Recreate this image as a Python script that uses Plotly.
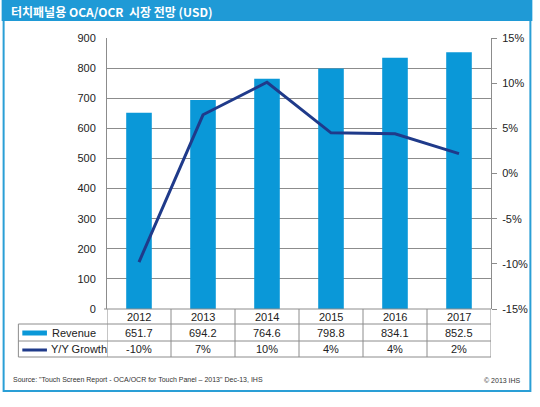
import plotly.graph_objects as go

years = ['2012', '2013', '2014', '2015', '2016', '2017']
revenue = [651.7, 694.2, 764.6, 798.8, 834.1, 852.5]
growth = [-9.8, 6.5, 10.1, 4.5, 4.4, 2.2]
growth_labels = ['-10%', '7%', '10%', '4%', '4%', '2%']
pct_ticks = [-15, -10, -5, 0, 5, 10, 15]
pct_tick_labels = ['-15%', '-10%', '-5%', '0%', '5%', '10%', '15%']

BAR_BLUE = '#0a98d8'
LINE_BLUE = '#1f3a8a'
FRAME_BLUE = '#2a9fd6'
GRID = '#8c8c8c'
FONT = 'Liberation Sans, Arial, sans-serif'
TXT = dict(family=FONT, size=11, color='#222')

# plot area in pixels
L, R, T, B = 107, 497, 38, 309
W, H = 540, 407


def px(x):
    return (x - L) / (R - L)


def py(y):
    return (B - y) / (B - T)


fig = go.Figure()
fig.add_trace(go.Bar(x=years, y=revenue, name='Revenue', marker=dict(color=BAR_BLUE, line_width=0),
                     width=0.4))
fig.add_trace(go.Scatter(x=years, y=growth, name='Y/Y Growth', mode='lines', yaxis='y2',
                         line=dict(color=LINE_BLUE, width=3)))

shapes = []
annotations = []

# outer frame and title bar
shapes.append(dict(type='rect', xref='paper', yref='paper', x0=px(2), x1=px(537), y0=py(391), y1=py(1),
                   line=dict(color=FRAME_BLUE, width=2), layer='below'))
shapes.append(dict(type='rect', xref='paper', yref='paper', x0=px(0), x1=px(539), y0=py(21), y1=py(0),
                   line_width=0, fillcolor='#1f9ad6', layer='below'))
annotations.append(dict(text='<b>터치패널용 OCA/OCR  시장 전망 (USD)</b>', xref='paper', yref='paper',
                        x=px(7), y=py(11), xanchor='left', yanchor='middle', showarrow=False,
                        font=dict(family='Noto Sans CJK KR', size=12, color='white')))

# data table under the chart
rows = [309, 324, 341, 357]
n = len(years)
for i, yy in enumerate(rows):
    x0 = L - 3 if i == 0 else 17
    shapes.append(dict(type='line', xref='paper', yref='paper', x0=px(x0), x1=1, y0=py(yy), y1=py(yy),
                       line=dict(color=GRID, width=1)))
shapes.append(dict(type='line', xref='paper', yref='paper', x0=px(17), x1=px(17), y0=py(324), y1=py(357),
                   line=dict(color=GRID, width=1)))
for k in range(n + 1):
    shapes.append(dict(type='line', xref='x', yref='paper', x0=k - 0.5, x1=k - 0.5, y0=py(309), y1=py(357),
                       line=dict(color=GRID, width=1)))

for k, yr in enumerate(years):
    annotations.append(dict(text=yr, xref='x', yref='paper', x=k, y=py(317), yanchor='middle',
                            showarrow=False, font=TXT))
    annotations.append(dict(text=f'{revenue[k]:.1f}', xref='x', yref='paper', x=k, y=py(333),
                            yanchor='middle', showarrow=False, font=TXT))
    annotations.append(dict(text=growth_labels[k], xref='x', yref='paper', x=k, y=py(349),
                            yanchor='middle', showarrow=False, font=TXT))

# legend keys in the table
shapes.append(dict(type='line', xref='paper', yref='paper', x0=px(21), x1=px(46), y0=py(333), y1=py(333),
                   line=dict(color=BAR_BLUE, width=5)))
shapes.append(dict(type='line', xref='paper', yref='paper', x0=px(21), x1=px(46), y0=py(350), y1=py(350),
                   line=dict(color=LINE_BLUE, width=3)))
annotations.append(dict(text='Revenue', xref='paper', yref='paper', x=px(49), y=py(333), xanchor='left',
                        yanchor='middle', showarrow=False, font=TXT))
annotations.append(dict(text='Y/Y Growth', xref='paper', yref='paper', x=px(48), y=py(349), xanchor='left',
                        yanchor='middle', showarrow=False, font=TXT))

# footer
annotations.append(dict(text='Source: "Touch Screen Report - OCA/OCR for Touch Panel \u2013 2013" Dec-13, IHS',
                        xref='paper', yref='paper', x=px(9), y=py(380), xanchor='left', yanchor='middle',
                        showarrow=False, font=dict(family=FONT, size=7, color='#333')))
annotations.append(dict(text='\u00a9 2013 IHS', xref='paper', yref='paper', x=px(530), y=py(380),
                        xanchor='right', yanchor='middle', showarrow=False,
                        font=dict(family=FONT, size=7, color='#333')))

fig.update_layout(
    width=W, height=H,
    margin=dict(l=L, r=W - R, t=T, b=H - B, pad=0),
    paper_bgcolor='white', plot_bgcolor='white',
    showlegend=False,
    xaxis=dict(type='category', showticklabels=False, showgrid=False, zeroline=False, showline=False,
               range=[-0.5, n - 0.5]),
    yaxis=dict(range=[0, 900], dtick=100, showgrid=True, gridcolor=GRID, gridwidth=1, zeroline=False,
               showline=True, linecolor=GRID, ticks='', ticklabelstandoff=8, tickfont=TXT),
    yaxis2=dict(range=[-15, 15], tickvals=pct_ticks, ticktext=pct_tick_labels, overlaying='y', side='right',
                showgrid=False, zeroline=False, showline=True, linecolor=GRID, ticks='outside', ticklen=5,
                tickcolor=GRID, ticklabelstandoff=3, tickfont=TXT),
    shapes=shapes,
    annotations=annotations,
)

# page body has an 8px default margin, drop it so the chart sits at 0,0
fig.write_html('out.html', config={'displayModeBar': False},
               post_script='document.body.style.margin="0";document.body.style.overflow="hidden";')
